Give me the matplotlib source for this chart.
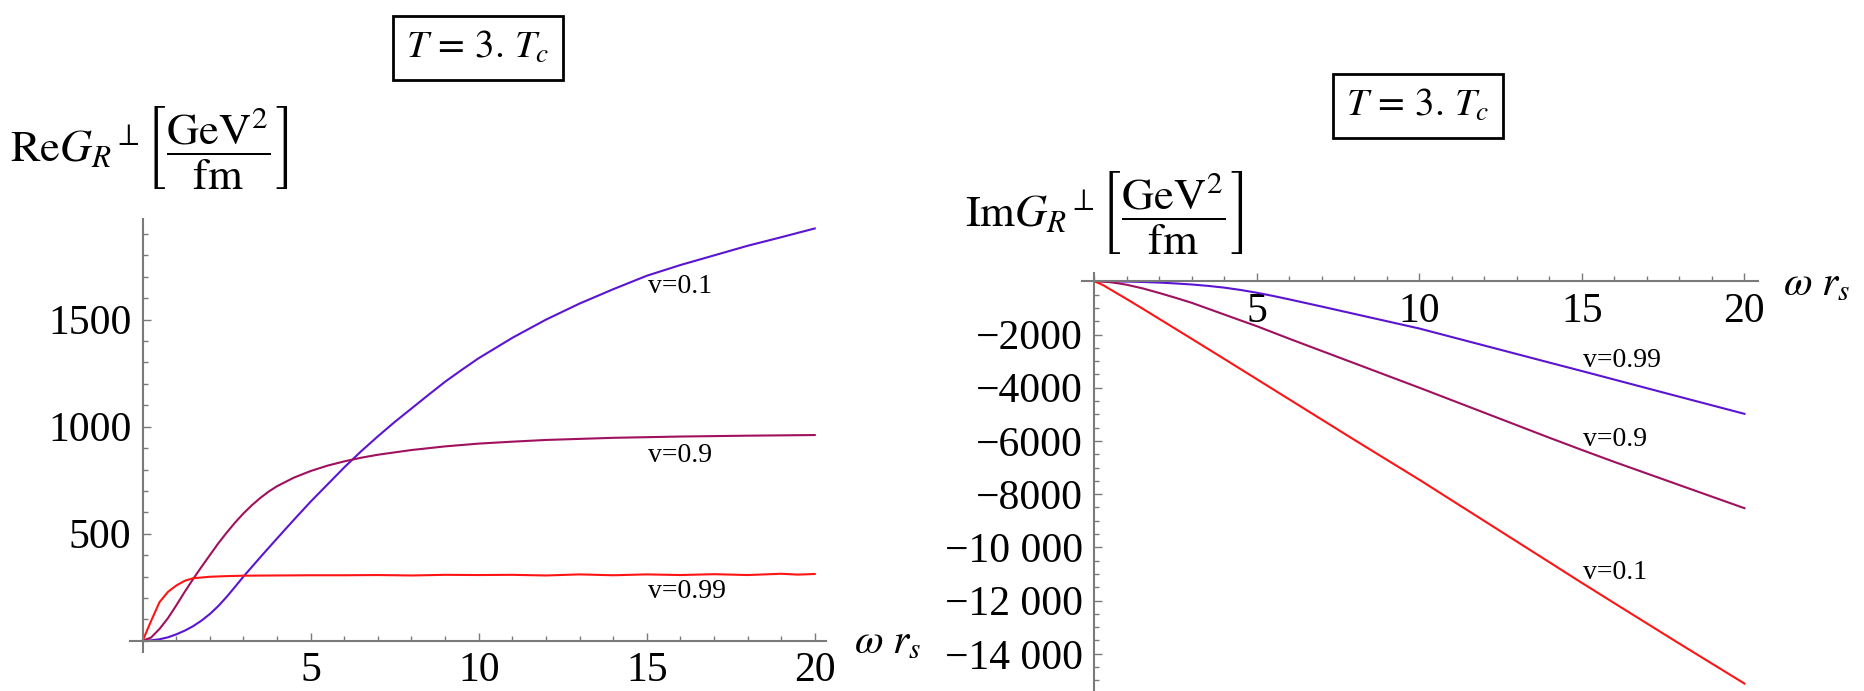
import matplotlib
matplotlib.use("Agg")
import matplotlib.pyplot as plt
from matplotlib.ticker import MultipleLocator

plt.rcParams['font.family'] = ['Liberation Serif', 'DejaVu Serif']
plt.rcParams['mathtext.fontset'] = 'stix'

# --- data ---
# left panel: Re G_R (GeV^2/fm) vs omega r_s
x_re_01 = [0, 0.25, 0.5, 0.75, 1, 1.25, 1.5, 1.75, 2, 2.25, 2.5, 2.75, 3, 3.5, 4,
           4.5, 5, 5.5, 6, 6.5, 7, 7.5, 8, 8.5, 9, 9.5, 10, 11, 12, 13, 14, 15,
           16, 17, 18, 19, 20]
re_01 = [0, 2, 7, 16, 30, 47, 68, 94, 125, 162, 205, 252, 300, 390, 478, 565,
         650, 730, 810, 885, 955, 1022, 1085, 1148, 1210, 1266, 1320, 1415, 1500,
         1575, 1642, 1705, 1755, 1800, 1845, 1885, 1926]

x_re_09 = [0, 0.25, 0.5, 0.75, 1, 1.25, 1.5, 1.75, 2, 2.25, 2.5, 2.75, 3, 3.25,
           3.5, 3.75, 4, 4.5, 5, 5.5, 6, 6.5, 7, 8, 9, 10, 11, 12, 14, 16, 18, 20]
re_09 = [0, 15, 55, 105, 165, 228, 288, 345, 400, 455, 505, 552, 595, 633, 667,
         697, 722, 762, 793, 818, 838, 855, 869, 891, 908, 921, 930, 938, 948,
         954, 958, 961]

x_re_099 = [0, 0.25, 0.5, 0.75, 1, 1.25, 1.5, 2, 2.5, 3, 4, 5, 6, 7, 8, 9, 10,
            11, 12, 13, 14, 15, 16, 17, 18, 19, 19.5, 20]
re_099 = [0, 92, 180, 228, 258, 280, 292, 299, 302, 304, 305, 306, 306, 307, 305,
          308, 307, 308, 305, 310, 306, 310, 307, 311, 307, 313, 309, 312]

# right panel: Im G_R (GeV^2/fm) vs omega r_s
x_im_099 = [0, 0.5, 1, 1.5, 2, 2.5, 3, 3.5, 4, 4.5, 5, 5.5, 6, 6.5, 7, 8, 9, 10,
            12, 14, 15, 16, 18, 20]
im_099 = [0, -2, -10, -25, -48, -80, -120, -172, -238, -325, -430, -550, -680,
          -815, -950, -1225, -1500, -1775, -2415, -3055, -3373, -3695, -4340, -4981]

x_im_09 = [0, 0.25, 0.5, 0.75, 1, 1.5, 2, 2.5, 3, 3.5, 4, 4.5, 5, 6, 8, 10, 12,
           14, 15, 16, 18, 20]
im_09 = [0, -10, -35, -78, -130, -270, -440, -620, -810, -1030, -1250, -1470,
         -1687, -2160, -3080, -4000, -4940, -5880, -6340, -6790, -7660, -8528]

x_im_01 = [0, 0.25, 0.5, 1, 1.5, 2, 3, 4, 5, 6, 8, 10, 12, 14, 15, 16, 18, 20]
im_01 = [0, -130, -310, -670, -1040, -1415, -2165, -2920, -3680, -4440, -5960,
         -7460, -9010, -10560, -11336, -12100, -13620, -15120]

curve_names_re = ['v=0.1', 'v=0.9', 'v=0.99']
curve_names_im = ['v=0.99', 'v=0.9', 'v=0.1']

x_ticks = [5, 10, 15, 20]
x_ticklabels = ['5', '10', '15', '20']
re_ticks = [500, 1000, 1500]
re_ticklabels = ['500', '1000', '1500']
im_ticks = [-2000, -4000, -6000, -8000, -10000, -12000, -14000]
im_ticklabels = ['\u22122000', '\u22124000', '\u22126000', '\u22128000',
                 '\u221210 000', '\u221212 000', '\u221214 000']

blue = '#5a14d2'
purple = '#a0105e'
red = '#ff1414'
axis_gray = '#7a7a7a'


def style_axes(ax):
    for s in ['top', 'right']:
        ax.spines[s].set_visible(False)
    ax.spines['left'].set_position(('data', 0))
    ax.spines['bottom'].set_position(('data', 0))
    for s in ['left', 'bottom']:
        ax.spines[s].set_color(axis_gray)
        ax.spines[s].set_linewidth(1.5)
    ax.tick_params(which='both', direction='in', color=axis_gray, width=1.0,
                   labelsize=30, pad=8)
    ax.tick_params(which='major', length=6)
    ax.tick_params(which='minor', length=3.8)
    ax.xaxis.set_minor_locator(MultipleLocator(1))
    ax.patch.set_alpha(0)


fig = plt.figure(figsize=(18.64, 6.91), dpi=100)

# left panel
ax1 = fig.add_axes([0.0695, 0.0569, 0.3739, 0.6258])
ax1.plot(x_re_01, re_01, color=blue, lw=1.5)
ax1.plot(x_re_09, re_09, color=purple, lw=1.5)
ax1.plot(x_re_099, re_099, color=red, lw=1.5)
ax1.set_xlim(-0.39, 20.35)
ax1.set_ylim(-51, 1969)
style_axes(ax1)
ax1.set_xticks(x_ticks)
ax1.set_xticklabels(x_ticklabels)
ax1.set_yticks(re_ticks)
ax1.set_yticklabels(re_ticklabels)
ax1.yaxis.set_minor_locator(MultipleLocator(100))
for name, ypos in zip(curve_names_re, [1657, 865, 228]):
    ax1.text(15.05, ypos, name, fontsize=20, ha='left', va='center')

# right panel
ax2 = fig.add_axes([0.5803, 0.0, 0.3627, 0.6054])
ax2.plot(x_im_099, im_099, color=blue, lw=1.5)
ax2.plot(x_im_09, im_09, color=purple, lw=1.5)
ax2.plot(x_im_01, im_01, color=red, lw=1.5)
ax2.set_xlim(-0.39, 20.41)
ax2.set_ylim(-15400, 325)
style_axes(ax2)
ax2.set_xticks(x_ticks)
ax2.set_xticklabels(x_ticklabels)
ax2.set_yticks(im_ticks)
ax2.set_yticklabels(im_ticklabels)
ax2.yaxis.set_minor_locator(MultipleLocator(500))
for name, ypos in zip(curve_names_im, [-2966, -5962, -10957]):
    ax2.text(15.02, ypos, name, fontsize=20, ha='left', va='center')

# axis labels and plot labels
fig.text(0.0054, 0.7865, r'$\mathrm{Re}G_R{}^{\perp}\left[\dfrac{\mathrm{GeV}^2}{\mathrm{fm}}\right]$',
         fontsize=32, ha='left', va='center')
fig.text(0.5177, 0.6925, r'$\mathrm{Im}G_R{}^{\perp}\left[\dfrac{\mathrm{GeV}^2}{\mathrm{fm}}\right]$',
         fontsize=32, ha='left', va='center')
fig.text(0.4582, 0.0695, r'$\omega\ r_s$', fontsize=30, ha='left', va='center')
fig.text(0.9565, 0.5876, r'$\omega\ r_s$', fontsize=30, ha='left', va='center')

box = dict(boxstyle='square,pad=0.35', fc='white', ec='black', lw=2)
fig.text(0.2564, 0.9305, r'$T\,=\,3.\,T_c$', fontsize=28, ha='center', va='center', bbox=box)
fig.text(0.7607, 0.8466, r'$T\,=\,3.\,T_c$', fontsize=28, ha='center', va='center', bbox=box)

fig.savefig('out.png', dpi=100)
